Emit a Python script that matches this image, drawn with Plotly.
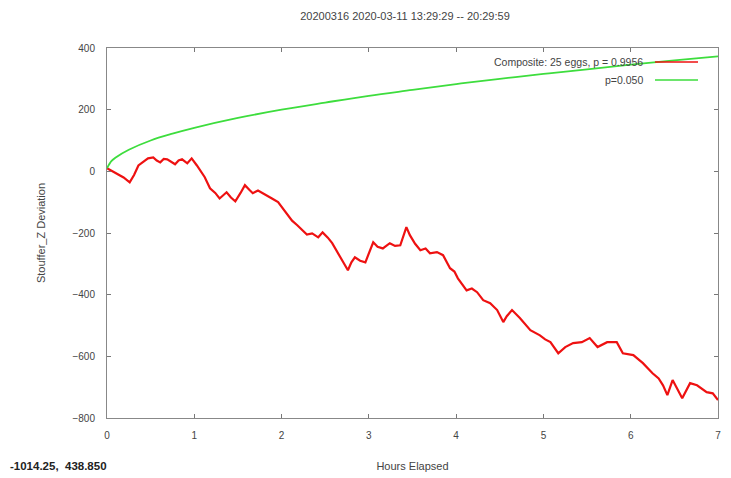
import plotly.graph_objects as go

# Composite cumulative deviation (red)
hours = [0.00, 0.05, 0.12, 0.19, 0.26, 0.31, 0.36, 0.42, 0.47, 0.53, 0.57, 0.61, 0.65, 0.69, 0.74,
         0.78, 0.82, 0.86, 0.92, 0.97, 1.03, 1.08, 1.12, 1.18, 1.24, 1.29, 1.37, 1.42, 1.47, 1.53,
         1.58, 1.63, 1.67, 1.73, 1.79, 1.84, 1.89, 1.96, 2.06, 2.12, 2.18, 2.24, 2.29, 2.35, 2.42,
         2.47, 2.53, 2.58, 2.67, 2.72, 2.76, 2.80, 2.84, 2.90, 2.96, 3.05, 3.10, 3.16, 3.24, 3.30,
         3.36, 3.43, 3.47, 3.53, 3.59, 3.65, 3.70, 3.78, 3.85, 3.93, 3.98, 4.02, 4.08, 4.12, 4.18,
         4.24, 4.31, 4.39, 4.47, 4.54, 4.58, 4.64, 4.73, 4.80, 4.85, 4.96, 5.02, 5.08, 5.17, 5.25,
         5.34, 5.44, 5.53, 5.62, 5.73, 5.84, 5.91, 6.03, 6.14, 6.25, 6.32, 6.37, 6.42, 6.48, 6.53,
         6.59, 6.68, 6.76, 6.87, 6.94, 7.00]
composite = [10, 2, -8, -20, -36, -12, 19, 30, 42, 45, 35, 29, 40, 39, 30,
             23, 35, 39, 26, 42, 19, 0, -19, -55, -70, -88, -68, -85, -97, -70,
             -45, -60, -71, -62, -71, -80, -88, -100, -136, -160, -175, -190, -205, -201, -214,
             -198, -215, -233, -279, -300, -321, -295, -279, -290, -295, -230, -245, -250, -233, -242,
             -240, -181, -207, -235, -256, -250, -266, -262, -272, -314, -325, -347, -370, -386, -380,
             -392, -418, -428, -450, -489, -470, -450, -476, -500, -515, -532, -545, -554, -590, -570,
             -557, -554, -541, -570, -554, -554, -590, -596, -622, -655, -672, -694, -726, -677, -705,
             -736, -687, -694, -716, -720, -742]

# p = 0.050 envelope (green)
env_hours = [0, 0.05, 0.1, 0.25, 0.5, 0.75, 1, 1.5, 2, 2.5, 3, 3.5, 4, 4.5, 5, 5.5, 6, 6.5, 7]
envelope = [10, 33, 45, 70, 100, 122, 141, 173, 200, 223, 245, 264, 283, 300, 316, 331, 346, 360, 373]

y_ticks = [400, 200, 0, -200, -400, -600, -800]
x_ticks = [0, 1, 2, 3, 4, 5, 6, 7]

title_text = "20200316 2020-03-11 13:29:29 -- 20:29:59"
legend_red = "Composite: 25 eggs, p = 0.9956"
legend_green = "p=0.050"
corner_text = "-1014.25,&nbsp;&nbsp;438.850"

RED = "#ee1111"
GREEN = "#3ddd3d"
FONT = "Liberation Sans Narrow, Liberation Sans, Arial, sans-serif"
TXT = "#444444"

# page body adds an 8px offset; figure is sized/margined to compensate
W, H = 723, 470
L, R, T, B = 99, 13, 40, 60
PW, PH = W - L - R, H - T - B

fig = go.Figure()
fig.add_trace(go.Scatter(x=hours, y=composite, mode="lines",
                         line=dict(color=RED, width=2.2), showlegend=False))
fig.add_trace(go.Scatter(x=env_hours, y=envelope, mode="lines",
                         line=dict(color=GREEN, width=1.8, shape="spline"), showlegend=False))

axis_common = dict(showgrid=False, zeroline=False, showline=True, linecolor="#888888",
                   linewidth=1, mirror="allticks", ticks="inside", ticklen=4,
                   tickcolor="#777777", tickfont=dict(family=FONT, size=10, color=TXT))

fig.update_layout(
    width=W, height=H,
    margin=dict(l=L, r=R, t=T, b=B, autoexpand=False),
    paper_bgcolor="white", plot_bgcolor="white",
    title=dict(text=title_text, x=397 / W, xanchor="center",
               y=1 - 8 / H, yanchor="middle",
               font=dict(family=FONT, size=11, color=TXT)),
    xaxis=dict(range=[0, 7], tickvals=x_ticks, ticklabelstandoff=8, **axis_common,
               title=dict(text="Hours Elapsed", standoff=22,
                          font=dict(family=FONT, size=11, color=TXT))),
    yaxis=dict(range=[-800, 400], tickvals=y_ticks, ticklabelstandoff=9, **axis_common,
               title=dict(text="Stouffer_Z Deviation", standoff=24,
                          font=dict(family=FONT, size=11, color=TXT))),
    showlegend=False,
)

# gnuplot-style key: text right-aligned, line sample on the right (screen coords)
for ytxt, label, col in [(62, legend_red, RED), (80, legend_green, GREEN)]:
    yp = (H - B - (ytxt - 8)) / PH
    fig.add_annotation(xref="paper", yref="paper", x=(645 - 8 - L) / PW, y=yp,
                       text=label, showarrow=False, xanchor="right", yanchor="middle",
                       font=dict(family=FONT, size=10.5, color=TXT))
    fig.add_shape(type="line", xref="paper", yref="paper",
                  x0=(655 - 8 - L) / PW, x1=(698 - 8 - L) / PW, y0=yp, y1=yp,
                  line=dict(color=col, width=1.5))

fig.add_annotation(xref="paper", yref="paper", x=-L / PW, y=-(466 - 418) / PH,
                   text="<b>" + corner_text + "</b>", showarrow=False,
                   xanchor="left", yanchor="middle",
                   font=dict(family=FONT, size=11.5, color="#222222"))

fig.write_html("out.html")
